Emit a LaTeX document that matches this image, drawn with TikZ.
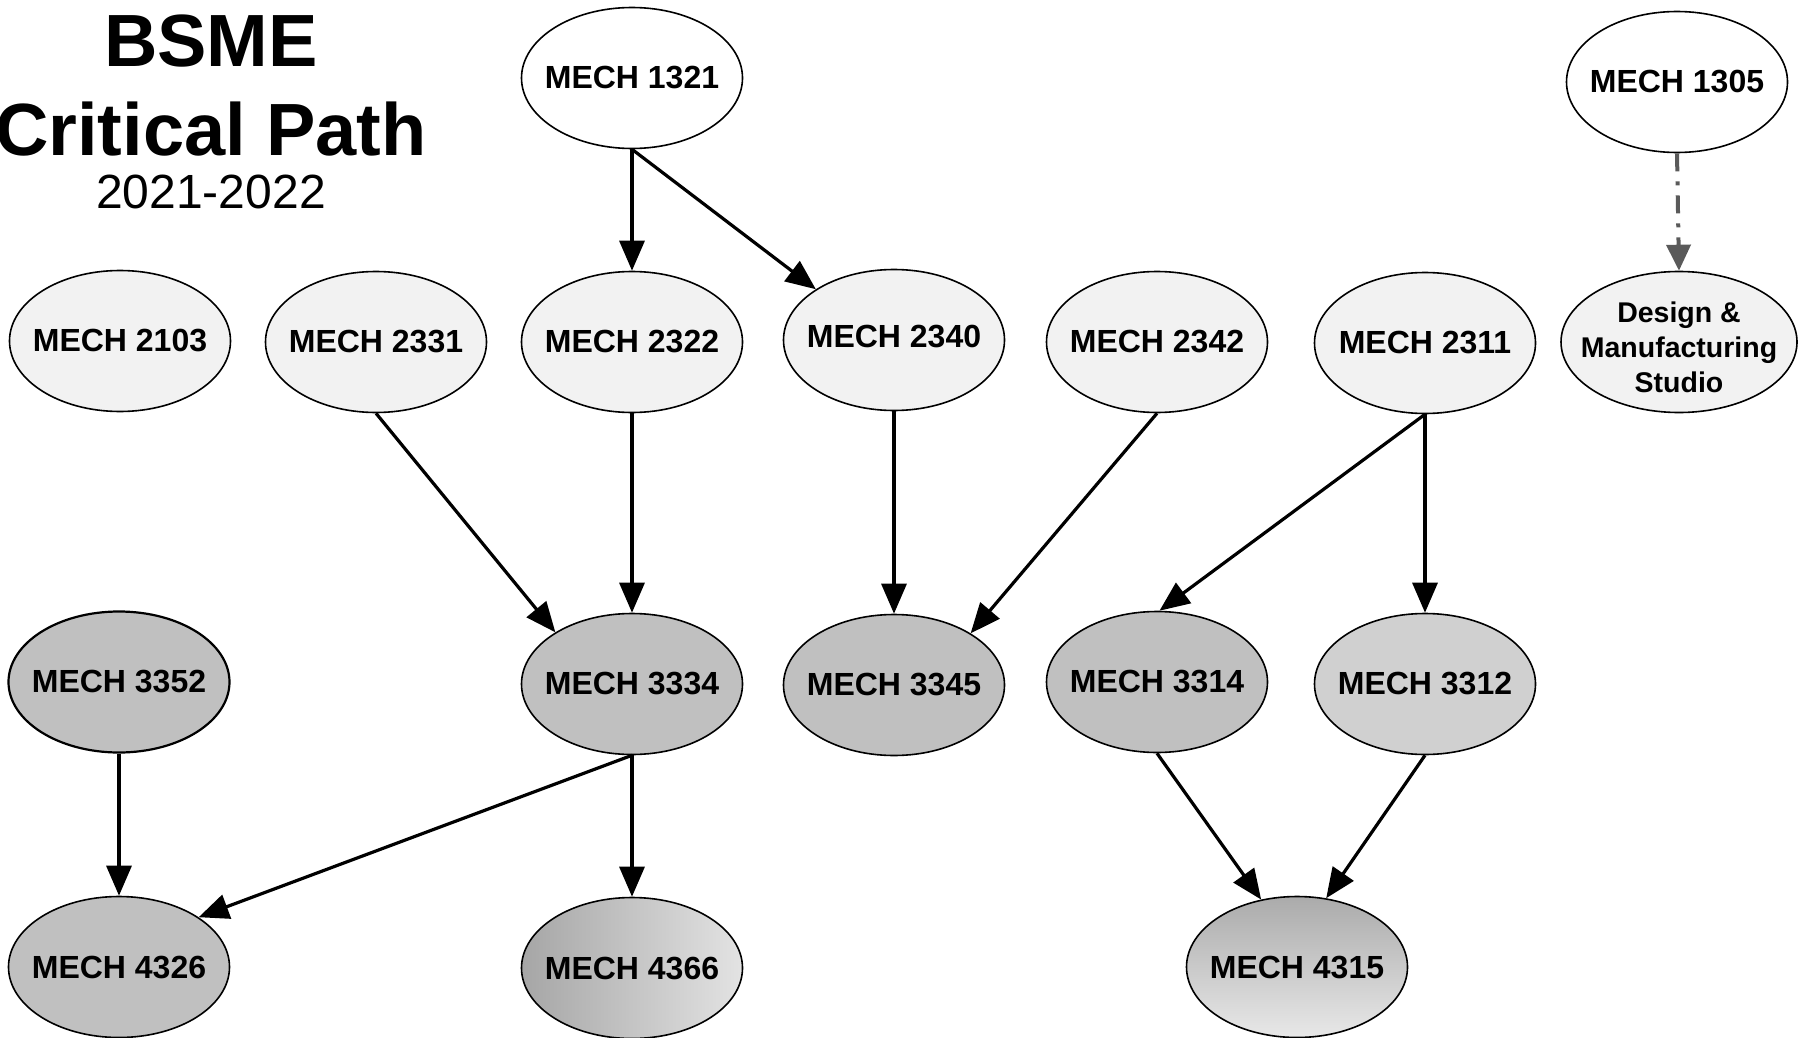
\documentclass[tikz,border=0pt]{standalone}
\usepackage{fontspec}
\setmainfont{Liberation Sans}
\usetikzlibrary{shapes.geometric,arrows.meta}
\definecolor{lightfill}{HTML}{F2F2F2}
\definecolor{midfill}{HTML}{C0C0C0}
\definecolor{paleFill}{HTML}{D0D0D0}
\definecolor{dashgray}{HTML}{5A5A5A}
\begin{document}
\begin{tikzpicture}[x=1pt,y=-1pt,
  ell/.style={ellipse,draw=black,line width=1.6pt,minimum width=221pt,minimum height=141pt,inner sep=0pt},
  txt/.style={font=\fontsize{32}{36}\selectfont\bfseries,inner sep=0pt},
  smalltxt/.style={font=\fontsize{28.5}{35}\selectfont\bfseries,inner sep=0pt,align=center,yshift=-5pt},
  conn/.style={line width=3.2pt,-{Triangle[length=30pt,width=25pt]}},
  dconn/.style={draw=dashgray,line width=4pt,dash pattern=on 18pt off 10pt on 4pt off 10pt,-{Triangle[length=26pt,width=24pt,fill=dashgray]}}
]
\useasboundingbox (0,0) rectangle (1812,1038);
% title
\node[anchor=base,font=\fontsize{74}{80}\selectfont\bfseries,inner sep=0pt] (t1) at (211,67) {BSME};
\node[anchor=base,font=\fontsize{74}{80}\selectfont\bfseries,inner sep=0pt] (t2) at (211,156) {Critical Path};
\node[anchor=base,font=\fontsize{48}{54}\selectfont,inner sep=0pt] (t3) at (211,208) {2021-2022};
% top row
\node[ell,fill=white,label={[txt]center:MECH 1321}] (m1321) at (632,78) {};
\node[ell,fill=white,label={[txt]center:MECH 1305}] (m1305) at (1677,82) {};
% second row
\node[ell,fill=lightfill,label={[txt]center:MECH 2103}] (m2103) at (120,341) {};
\node[ell,fill=lightfill,label={[txt]center:MECH 2331}] (m2331) at (376,342) {};
\node[ell,fill=lightfill,label={[txt]center:MECH 2322}] (m2322) at (632,342) {};
\node[ell,fill=lightfill,label={[txt,yshift=3pt]center:MECH 2340}] (m2340) at (894,340) {};
\node[ell,fill=lightfill,label={[txt]center:MECH 2342}] (m2342) at (1157,342) {};
\node[ell,fill=lightfill,label={[txt]center:MECH 2311}] (m2311) at (1425,343) {};
\node[ell,fill=lightfill,minimum width=236pt,label={[smalltxt]center:Design \&\\Manufacturing\\Studio}] (dms) at (1679,342) {};
% third row
\node[ell,fill=midfill,line width=2.2pt,label={[txt]center:MECH 3352}] (m3352) at (119,682) {};
\node[ell,fill=midfill,label={[txt]center:MECH 3334}] (m3334) at (632,684) {};
\node[ell,fill=midfill,label={[txt]center:MECH 3345}] (m3345) at (894,685) {};
\node[ell,fill=midfill,label={[txt]center:MECH 3314}] (m3314) at (1157,682) {};
\node[ell,fill=paleFill,label={[txt]center:MECH 3312}] (m3312) at (1425,684) {};
% fourth row
\node[ell,fill=midfill,label={[txt]center:MECH 4326}] (m4326) at (119,967) {};
\node[ell,left color=black!35,right color=black!11,label={[txt]center:MECH 4366}] (m4366) at (632,968) {};
\node[ell,top color=black!33,bottom color=black!9,label={[txt]center:MECH 4315}] (m4315) at (1297,967) {};
% connectors
\draw[conn] (m1321.south) -- (m2322.north);
\draw[conn] (m1321.south) -- (m2340.147);
\draw[dconn] (m1305.south) -- (dms.north);
\draw[conn] (m2331.south) -- (m3334.146);
\draw[conn] (m2322.south) -- (m3334.north);
\draw[conn] (m2340.south) -- (m3345.north);
\draw[conn] (m2342.south) -- (m3345.34);
\draw[conn] (m2311.south) -- (m3314.88);
\draw[conn] (m2311.south) -- (m3312.north);
\draw[conn] (m3352.south) -- (m4326.north);
\draw[conn] (m3334.south) -- (m4326.32);
\draw[conn] (m3334.south) -- (m4366.north);
\draw[conn] (m3314.south) -- (m4315.118);
\draw[conn] (m3312.south) -- (m4315.67);
\end{tikzpicture}
\end{document}
